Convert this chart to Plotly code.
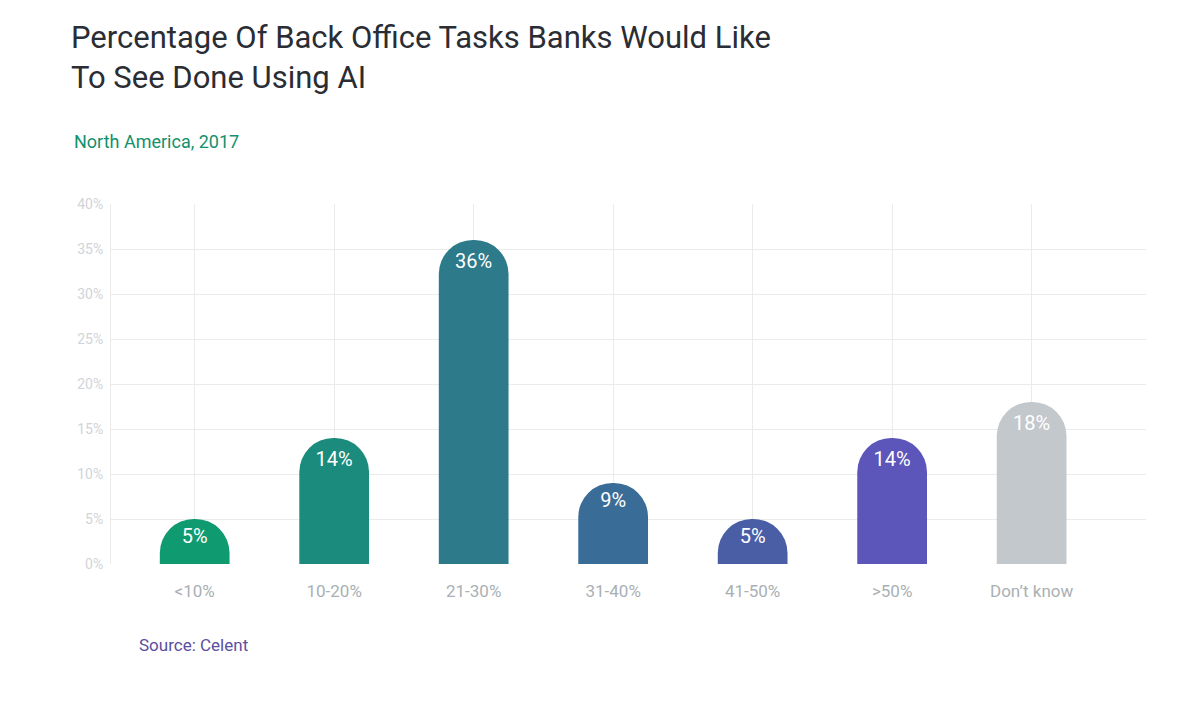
import plotly.graph_objects as go

categories = ["<10%", "10-20%", "21-30%", "31-40%", "41-50%", ">50%", "Don’t know"]
values = [5, 14, 36, 9, 5, 14, 18]
labels = ["5%", "14%", "36%", "9%", "5%", "14%", "18%"]
colors = ["#0f9a70", "#1a8b7c", "#2c7a8a", "#3a6c98", "#4a5ea6", "#5c55ba", "#c3c8cd"]
tick_vals = [0, 5, 10, 15, 20, 25, 30, 35, 40]
tick_text = [f"{v}%" for v in tick_vals]

L, R, T, B = 103, 1138, 196, 556
PW, PH = R - L, B - T

fig = go.Figure(go.Bar(
    x=list(range(len(categories))), y=values, text=labels,
    marker=dict(color=colors, cornerradius="50%", line=dict(width=0)),
    width=0.5, textposition="inside", insidetextanchor="end", constraintext="none",
    textfont=dict(color="white", size=20, family="Roboto"),
))
fig.update_layout(
    width=1200, height=704, plot_bgcolor="white", paper_bgcolor="white",
    margin=dict(l=L, r=1200 - R, t=T, b=704 - B, autoexpand=False), showlegend=False,
    font=dict(family="Roboto"),
    title=dict(text="Percentage Of Back Office Tasks Banks Would Like<br>To See Done Using AI",
               xref="container", yref="container", pad=dict(l=0, t=0),
               x=63/1200, xanchor="left", y=1-40/704, yanchor="top",
               font=dict(size=31, color="#2a2d34", family="Roboto")),
    annotations=[
        dict(text="North America, 2017", x=(64 - L)/PW, y=(B - 133)/PH, xref="paper", yref="paper",
             xanchor="left", yanchor="middle", showarrow=False, font=dict(size=18, color="#13906c")),
        dict(text="Source: Celent", x=(129 - L)/PW, y=(B - 637)/PH, xref="paper", yref="paper",
             xanchor="left", yanchor="middle", showarrow=False, font=dict(size=17, color="#5a4fa0")),
    ],
)
fig.update_xaxes(tickvals=list(range(len(categories))), ticktext=categories, range=[-0.6, 6.82],
                 showgrid=True, gridcolor="#ebebeb", zeroline=False, automargin=False,
                 tickfont=dict(size=17, color="#a9b0b5"), ticks="outside", ticklen=12, tickcolor="white")
fig.update_yaxes(tickvals=tick_vals, ticktext=tick_text, range=[0, 40], showgrid=True,
                 gridcolor="#ebebeb", zeroline=False, showline=True, linecolor="#ebebeb", automargin=False,
                 tickfont=dict(size=14, color="#d0d4d8"), ticks="outside", ticklen=4, tickcolor="white")
fig.write_html("out.html")
